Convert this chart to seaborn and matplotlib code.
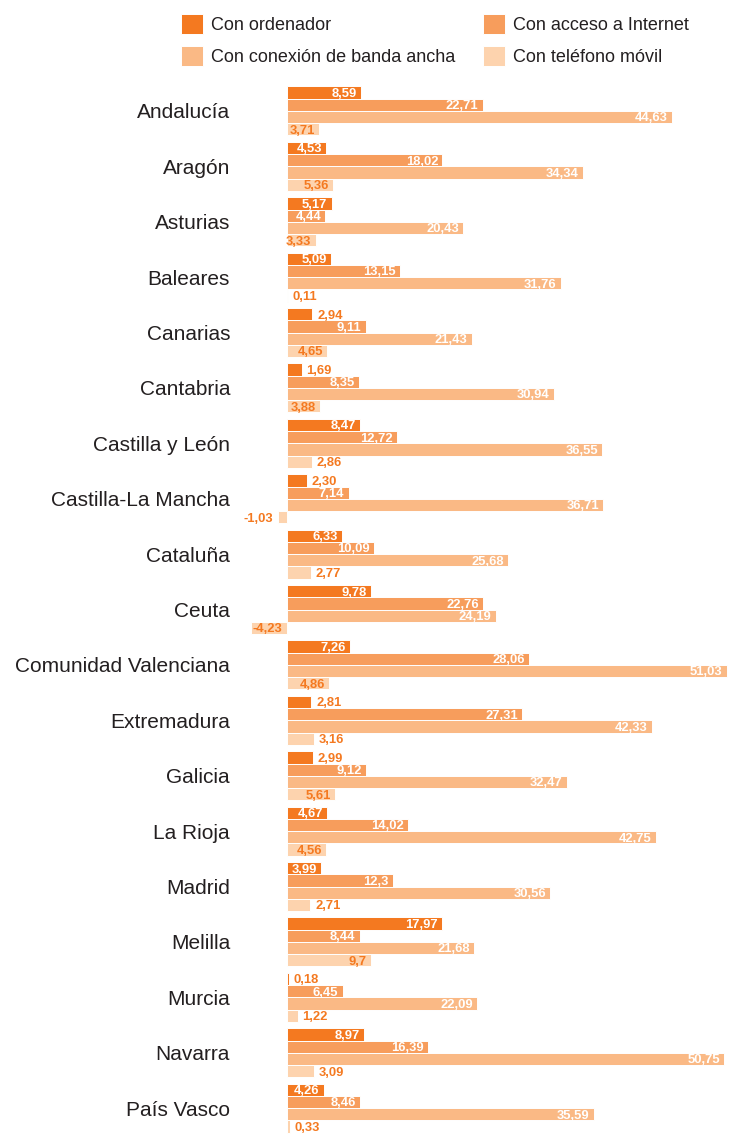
import matplotlib
matplotlib.use("Agg")
import matplotlib.pyplot as plt
import seaborn as sns
import pandas as pd

regiones = [
    "Andalucía", "Aragón", "Asturias", "Baleares", "Canarias", "Cantabria",
    "Castilla y León", "Castilla-La Mancha", "Cataluña", "Ceuta",
    "Comunidad Valenciana", "Extremadura", "Galicia", "La Rioja", "Madrid",
    "Melilla", "Murcia", "Navarra", "País Vasco",
]

series = ["Con ordenador", "Con acceso a Internet",
          "Con conexión de banda ancha", "Con teléfono móvil"]

ordenador = ["8,59", "4,53", "5,17", "5,09", "2,94", "1,69", "8,47", "2,30", "6,33",
             "9,78", "7,26", "2,81", "2,99", "4,67", "3,99", "17,97", "0,18", "8,97", "4,26"]
internet = ["22,71", "18,02", "4,44", "13,15", "9,11", "8,35", "12,72", "7,14", "10,09",
            "22,76", "28,06", "27,31", "9,12", "14,02", "12,3", "8,44", "6,45", "16,39", "8,46"]
banda_ancha = ["44,63", "34,34", "20,43", "31,76", "21,43", "30,94", "36,55", "36,71", "25,68",
               "24,19", "51,03", "42,33", "32,47", "42,75", "30,56", "21,68", "22,09", "50,75", "35,59"]
movil = ["3,71", "5,36", "3,33", "0,11", "4,65", "3,88", "2,86", "-1,03", "2,77",
         "-4,23", "4,86", "3,16", "5,61", "4,56", "2,71", "9,7", "1,22", "3,09", "0,33"]

colores = ["#F47920", "#F79D5C", "#FAB985", "#FDD3AE"]
color_texto = "#F47920"
color_etiqueta = "#231F20"

etiquetas = [ordenador, internet, banda_ancha, movil]
filas = []
for serie, valores in zip(series, etiquetas):
    for region, txt in zip(regiones, valores):
        filas.append({"region": region, "serie": serie,
                      "valor": float(txt.replace(",", ".")), "texto": txt})
df = pd.DataFrame(filas)

sns.set_theme(style="white")
plt.rcParams["font.family"] = ["Liberation Sans", "DejaVu Sans"]

W, H = 735, 1135
fig = plt.figure(figsize=(W / 100, H / 100), dpi=100)

# axes placement in pixels: zero line at x=287, 8.62 px per unit
ax_left_px, ax_right_px = 240, 735
px_per_unit = 8.62
zero_px = 287
ax_top_px = 80.5
unit_y = 55.4
ylo, yhi = -0.55, 18.55
ax_h_px = (yhi - ylo) * unit_y
ax = fig.add_axes([ax_left_px / W, 1 - (ax_top_px + ax_h_px) / H,
                   (ax_right_px - ax_left_px) / W, ax_h_px / H])

sns.barplot(data=df, y="region", x="valor", hue="serie", order=regiones,
            hue_order=series, palette=colores, saturation=1, orient="h",
            width=0.885, dodge=True, edgecolor="white", linewidth=0.7, ax=ax,
            errorbar=None, legend=True)

ax.set_xlim((ax_left_px - zero_px) / px_per_unit, (ax_right_px - zero_px) / px_per_unit)
ax.set_ylim(yhi, ylo)
for s in ax.spines.values():
    s.set_visible(False)
ax.set_xticks([])
ax.set_xlabel("")
ax.set_ylabel("")
ax.tick_params(axis="y", length=0, pad=(ax_left_px - 230) / 1.389,
               labelsize=15, labelcolor=color_etiqueta)

# value labels: inside the bar end if they fit, otherwise just outside
fig.canvas.draw()
renderer = fig.canvas.get_renderer()
fs_valor = 9.4
for k, (cont, valores) in enumerate(zip(ax.containers, etiquetas)):
    for patch, txt in zip(cont.patches, valores):
        v = float(txt.replace(",", "."))
        y = patch.get_y() + patch.get_height() / 2
        t = ax.text(0, 0, txt, fontsize=fs_valor, fontweight="bold")
        tw = t.get_window_extent(renderer).width
        t.remove()
        bar_px = abs(v) * px_per_unit
        cabe = bar_px >= tw + 3
        if v >= 0:
            if cabe:
                xy_off, ha = -3, "right"
                col = "white" if k < 3 else color_texto
            else:
                xy_off, ha = 3.5, "left"
                col = color_texto
        else:
            if cabe:
                xy_off, ha = 1.5, "left"
            else:
                xy_off, ha = -3.5, "right"
            col = color_texto
        ax.annotate(txt, (v, y), xytext=(xy_off, -1), textcoords="offset points",
                    ha=ha, va="center", fontsize=fs_valor, fontweight="bold",
                    color=col)

# legend at the top, two columns
handles, labels = ax.get_legend_handles_labels()
ax.get_legend().remove()
orden = [0, 2, 1, 3]
fig.legend([handles[i] for i in orden], [labels[i] for i in orden],
           loc="upper left", bbox_to_anchor=(174 / W, 1 - 7 / H), ncol=2,
           frameon=False, fontsize=13, handlelength=1.2, handleheight=1.35,
           handletextpad=0.45, columnspacing=1.55, labelspacing=0.62,
           borderaxespad=0, labelcolor=color_etiqueta)

fig.savefig("out.png", dpi=100, facecolor="white")
